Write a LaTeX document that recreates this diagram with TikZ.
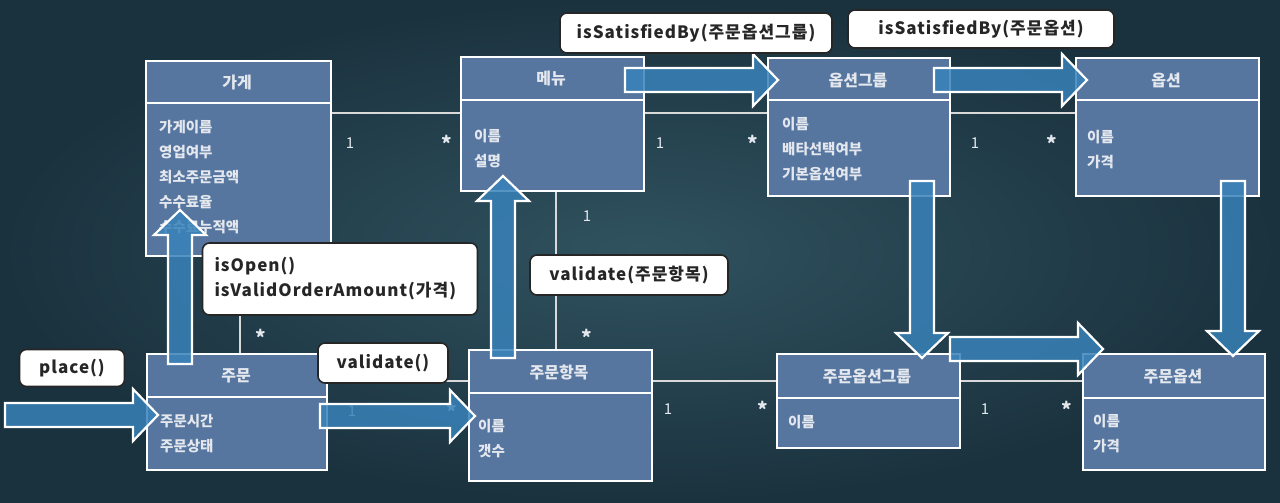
\documentclass[tikz,border=0pt]{standalone}
\usepackage{fontspec}
\setmainfont{Noto Sans CJK KR}
\newfontfamily\msgfont{Noto Sans CJK KR}[LetterSpace=6]
\usetikzlibrary{calc}

\definecolor{board}{RGB}{26,50,62}
\definecolor{boardlight}{RGB}{48,82,95}
\definecolor{classblue}{RGB}{86,118,160}
\definecolor{flowblue}{RGB}{56,130,185}
\definecolor{chalk}{RGB}{228,232,238}

\begin{document}
\begin{tikzpicture}[x=1pt, y=-1pt,
		umlbox/.style={draw=white, line width=2pt, fill=classblue, anchor=north west, inner sep=0pt},
		umlsep/.style={draw=white, line width=2pt},
		umltitle/.style={text=chalk, font=\bfseries\fontsize{16}{18}\selectfont},
		umlattr/.style={text=chalk, anchor=north west, align=left, inner sep=0pt, font=\bfseries\fontsize{14.5}{25}\selectfont},
		assoc/.style={draw=white!85!black, line width=1.6pt},
		mult/.style={text=chalk, inner sep=0pt, font=\fontsize{15}{15}\selectfont},
		multstar/.style={text=chalk, inner sep=0pt, font=\bfseries\fontsize{20}{20}\selectfont},
		msg/.style={draw=black!85, line width=1.6pt, fill=white, rounded corners=7pt, text=black!85, font=\msgfont\bfseries\fontsize{17}{25}\selectfont},
		fat/.style={fill=flowblue, fill opacity=0.85, draw=white, line width=2.2pt, line join=miter},
		pics/fatarrow/.style={code={
			\path[fat] (0,-12) -- ({#1-25},-12) -- ({#1-25},-26) -- (#1,0) -- ({#1-25},26) -- ({#1-25},12) -- (0,12) -- cycle;
		}}
		]
		
		% Board
		\useasboundingbox (0,0) rectangle (1280,503);
		\shade[inner color=boardlight, outer color=board] (0,0) rectangle (1280,503);
		
		% Classes
		\node[umlbox, minimum width=185, minimum height=195] (store) at (145,60) {};
		\draw[umlsep] ([yshift=-43pt]store.north west) -- ([yshift=-43pt]store.north east);
		\node[umltitle] (storeT) at (237,82) {가게};
		\node[umlattr] (storeA) at (159,120) {가게이름\\영업여부\\최소주문금액\\수수료율\\수수료누적액};
		
		\node[umlbox, minimum width=183, minimum height=134] (menu) at (460,56) {};
		\draw[umlsep] ([yshift=-44pt]menu.north west) -- ([yshift=-44pt]menu.north east);
		\node[umltitle] (menuT) at (551,79) {메뉴};
		\node[umlattr] (menuA) at (474,129) {이름\\설명};
		
		\node[umlbox, minimum width=182, minimum height=138] (optgroup) at (767,57) {};
		\draw[umlsep] ([yshift=-43pt]optgroup.north west) -- ([yshift=-43pt]optgroup.north east);
		\node[umltitle] (optgroupT) at (858,80) {옵션그룹};
		\node[umlattr] (optgroupA) at (782,117) {이름\\배타선택여부\\기본옵션여부};
		
		\node[umlbox, minimum width=183, minimum height=138] (option) at (1075,57) {};
		\draw[umlsep] ([yshift=-43pt]option.north west) -- ([yshift=-43pt]option.north east);
		\node[umltitle] (optionT) at (1166,80) {옵션};
		\node[umlattr] (optionA) at (1087,130) {이름\\가격};
		
		\node[umlbox, minimum width=180, minimum height=116] (order) at (146,353) {};
		\draw[umlsep] ([yshift=-44pt]order.north west) -- ([yshift=-44pt]order.north east);
		\node[umltitle] (orderT) at (236,376) {주문};
		\node[umlattr] (orderA) at (160,414) {주문시간\\주문상태};
		
		\node[umlbox, minimum width=183, minimum height=131] (orderitem) at (468,349) {};
		\draw[umlsep] ([yshift=-44pt]orderitem.north west) -- ([yshift=-44pt]orderitem.north east);
		\node[umltitle] (orderitemT) at (559,372) {주문항목};
		\node[umlattr] (orderitemA) at (478,419) {이름\\갯수};
		
		\node[umlbox, minimum width=183, minimum height=94] (ordoptgroup) at (776,353) {};
		\draw[umlsep] ([yshift=-45pt]ordoptgroup.north west) -- ([yshift=-45pt]ordoptgroup.north east);
		\node[umltitle] (ordoptgroupT) at (867,377) {주문옵션그룹};
		\node[umlattr] (ordoptgroupA) at (788,415) {이름};
		
		\node[umlbox, minimum width=182, minimum height=116] (orderopt) at (1082,353) {};
		\draw[umlsep] ([yshift=-45pt]orderopt.north west) -- ([yshift=-45pt]orderopt.north east);
		\node[umltitle] (orderoptT) at (1173,377) {주문옵션};
		\node[umlattr] (orderoptA) at (1093,414) {이름\\가격};
		
		% Associations
		\draw[assoc] (store.east |- 0,113) -- (menu.west |- 0,113);
		\draw[assoc] (menu.east |- 0,113) -- (optgroup.west |- 0,113);
		\draw[assoc] (optgroup.east |- 0,113) -- (option.west |- 0,113);
		\draw[assoc] (store.south -| 240,0) -- (order.north -| 240,0);
		\draw[assoc] (menu.south -| 556,0) -- (orderitem.north -| 556,0);
		\draw[assoc] (order.east |- 0,381) -- (orderitem.west |- 0,381);
		\draw[assoc] (orderitem.east |- 0,381) -- (ordoptgroup.west |- 0,381);
		\draw[assoc] (ordoptgroup.east |- 0,381) -- (orderopt.west |- 0,381);
		
		% Multiplicities
		\node[mult] (storeMenuOne) at (350,143) {1};
		\node[multstar] (storeMenuMany) at (447,143) {*};
		\node[mult] (menuGroupOne) at (660,143) {1};
		\node[multstar] (menuGroupMany) at (753,143) {*};
		\node[mult] (groupOptOne) at (975,143) {1};
		\node[multstar] (groupOptMany) at (1052,143) {*};
		\node[mult] (menuItemOne) at (587,216) {1};
		\node[multstar] (menuItemMany) at (587,337) {*};
		\node[multstar] (storeOrderMany) at (261,337) {*};
		\node[mult] (orderItemOne) at (352,411) {1};
		\node[multstar] (orderItemMany) at (452,411) {*};
		\node[mult] (itemGroupOne) at (668,409) {1};
		\node[multstar] (itemGroupMany) at (763,409) {*};
		\node[mult] (groupOrdOptOne) at (985,409) {1};
		\node[multstar] (groupOrdOptMany) at (1067,409) {*};
		
		% Message flow
		\pic at (5,415) {fatarrow=153};
		\pic at (320,416) {fatarrow=155};
		\pic[rotate=90] at (180,364) {fatarrow=154};
		\pic[rotate=90] at (503,358) {fatarrow=182};
		\pic at (625,80) {fatarrow=153};
		\pic at (934,80) {fatarrow=153};
		\pic[rotate=-90] at (922,181) {fatarrow=177};
		\pic[rotate=-90] at (1233,181) {fatarrow=175};
		\pic at (950,349) {fatarrow=153};
		
		% Messages
		\node[msg, minimum width=105, minimum height=37] (placeMsg) at (72,368) {place()};
		\node[msg, minimum width=130, minimum height=40] (validateMsg) at (383,363) {validate()};
		\node[msg, minimum height=72, align=left, text width=251, inner xsep=12pt] (storeMsg) at (340,279) {isOpen()\\isValidOrderAmount(가격)};
		\node[msg, minimum width=198, minimum height=40] (itemMsg) at (629,275) {validate(주문항목)};
		\node[msg, minimum width=272, minimum height=40] (groupMsg) at (696,33) {isSatisfiedBy(주문옵션그룹)};
		\node[msg, minimum width=266, minimum height=38] (optMsg) at (981,29) {isSatisfiedBy(주문옵션)};
		
	\end{tikzpicture}
\end{document}
